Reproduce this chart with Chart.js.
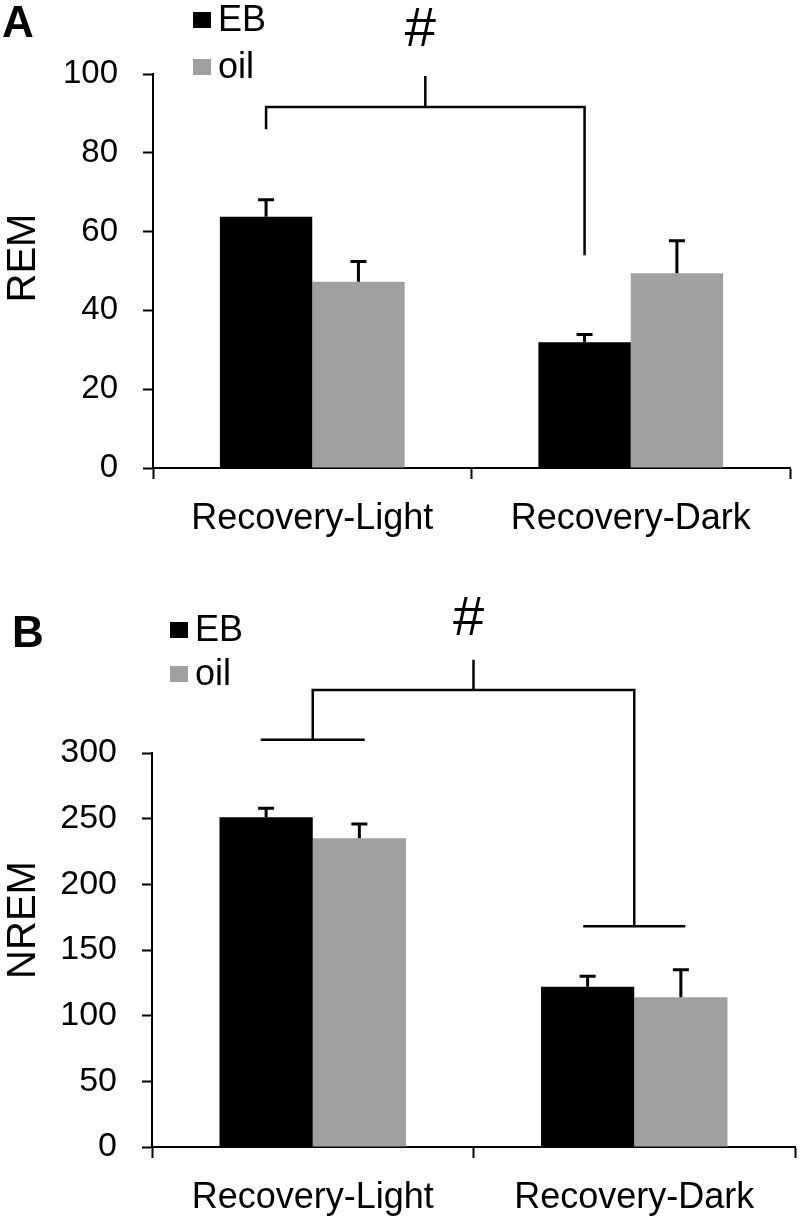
<!DOCTYPE html>
<html lang="en">
<head>
    <meta charset="UTF-8">
    <title>REM / NREM recovery</title>
    <script src="https://cdn.jsdelivr.net/npm/chart.js"></script>
    <style>
        body { margin: 0; background: #fff; }
        .painel { position: relative; width: 800px; }
        #painelA { height: 575px; }
        #painelB { height: 642px; }
    </style>
</head>
<body>
    <div class="painel" id="painelA"><canvas id="graficoA"></canvas></div>
    <div class="painel" id="painelB"><canvas id="graficoB"></canvas></div>

    <script>
        // dados
        const categories = ['Recovery-Light', 'Recovery-Dark'];
        const seriesNames = ['EB', 'oil'];

        const remEB = [63.8, 31.9];
        const remEBErr = [4.3, 2.0];
        const remOil = [47.3, 49.4];
        const remOilErr = [5.1, 8.3];
        const remTicks = [0, 20, 40, 60, 80, 100];

        const nremEB = [251, 122];
        const nremEBErr = [7, 8];
        const nremOil = [235, 114];
        const nremOilErr = [11, 21];
        const nremTicks = [0, 50, 100, 150, 200, 250, 300];

        const corEB = '#000000';
        const corOil = '#a0a0a0';
        const fonte = '"Liberation Sans", Arial, sans-serif';

        // barras de erro + chaves + legenda desenhadas à mão
        const extras = {
            id: 'extras',
            afterDatasetsDraw(chart, args, opts) {
                const ctx = chart.ctx;
                const y = chart.scales.y;
                ctx.save();
                ctx.strokeStyle = '#000';
                ctx.lineWidth = 3;
                chart.data.datasets.forEach((ds, i) => {
                    const meta = chart.getDatasetMeta(i);
                    meta.data.forEach((bar, j) => {
                        const top = y.getPixelForValue(ds.data[j] + ds.errors[j]);
                        ctx.beginPath();
                        ctx.moveTo(bar.x, bar.y);
                        ctx.lineTo(bar.x, top);
                        ctx.moveTo(bar.x - 8, top);
                        ctx.lineTo(bar.x + 8, top);
                        ctx.stroke();
                    });
                });
                ctx.restore();
            },
            afterDraw(chart, args, opts) {
                const ctx = chart.ctx;
                const x = chart.scales.x;
                const y = chart.scales.y;
                ctx.save();
                ctx.strokeStyle = '#000';
                ctx.lineWidth = 2.5;

                // chave de significância
                const b = opts.bracket;
                const px = (p) => p.bar ? chart.getDatasetMeta(p.bar[0]).data[p.bar[1]].x : x.getPixelForValue(p.cat);
                const xl = px(b.left), xr = px(b.right);
                const yTop = y.getPixelForValue(b.top);
                ctx.beginPath();
                ctx.moveTo(xl, y.getPixelForValue(b.left.bottom));
                ctx.lineTo(xl, yTop);
                ctx.lineTo(xr, yTop);
                ctx.lineTo(xr, y.getPixelForValue(b.right.bottom));
                const xm = (xl + xr) / 2;
                ctx.moveTo(xm, yTop);
                ctx.lineTo(xm, y.getPixelForValue(b.peak));
                [b.left, b.right].forEach((p, k) => {
                    if (p.foot) {
                        const xx = k === 0 ? xl : xr;
                        const yy = y.getPixelForValue(p.bottom);
                        ctx.moveTo(xx - p.foot, yy);
                        ctx.lineTo(xx + p.foot, yy);
                    }
                });
                ctx.stroke();

                ctx.fillStyle = '#000';
                ctx.textAlign = 'center';
                ctx.textBaseline = 'middle';
                ctx.font = '56px ' + fonte;
                ctx.fillText('#', xm - 5, opts.hashY);

                // título do eixo y
                ctx.save();
                ctx.translate(22, opts.titleY);
                ctx.rotate(-Math.PI / 2);
                ctx.font = '40px ' + fonte;
                ctx.fillText(opts.title, 0, 2);
                ctx.restore();

                // letra do painel
                ctx.textAlign = 'left';
                ctx.font = 'bold 44px ' + fonte;
                ctx.fillText(opts.letter, opts.letterX, opts.letterY);

                // legenda
                ctx.font = '36px ' + fonte;
                chart.data.datasets.forEach((ds, i) => {
                    const ly = opts.legendY + i * opts.legendGap;
                    ctx.fillStyle = ds.backgroundColor;
                    ctx.fillRect(opts.legendX, ly - 8, 18, 16);
                    ctx.fillStyle = '#000';
                    ctx.fillText(ds.label, opts.legendX + 25, ly + 1);
                });
                ctx.restore();
            }
        };

        function montarGrafico(id, cfg) {
            const eixoComum = {
                border: { display: true, color: '#000', width: 2 },
                grid: { display: true, drawOnChartArea: false, drawTicks: true, tickLength: 10, tickColor: '#000', tickWidth: 2 }
            };
            return new Chart(document.getElementById(id), {
                type: 'bar',
                data: {
                    labels: categories,
                    datasets: [
                        { label: seriesNames[0], data: cfg.eb, errors: cfg.ebErr, backgroundColor: corEB },
                        { label: seriesNames[1], data: cfg.oil, errors: cfg.oilErr, backgroundColor: corOil }
                    ]
                },
                options: {
                    responsive: true,
                    maintainAspectRatio: false,
                    animation: false,
                    layout: { padding: { top: cfg.top, right: cfg.right, left: 0, bottom: 0 } },
                    datasets: { bar: { categoryPercentage: 0.58, barPercentage: 1.0 } },
                    plugins: {
                        legend: { display: false },
                        tooltip: { enabled: false },
                        extras: cfg.extras
                    },
                    scales: {
                        x: {
                            ...eixoComum,
                            offset: true,
                            grid: { ...eixoComum.grid, offset: true, tickLength: 11 },
                            ticks: { color: '#000', font: { family: fonte, size: 36 }, padding: 18, maxRotation: 0 },
                            afterFit: (s) => { s.height = cfg.xHeight; }
                        },
                        y: {
                            ...eixoComum,
                            min: cfg.ticks[0],
                            max: cfg.ticks[cfg.ticks.length - 1],
                            afterBuildTicks: (s) => { s.ticks = cfg.ticks.map(v => ({ value: v })); },
                            ticks: { color: '#000', font: { family: fonte, size: cfg.tickSize }, padding: 25 },
                            afterFit: (s) => { s.width = cfg.yWidth; }
                        }
                    }
                },
                plugins: [extras]
            });
        }

        document.addEventListener('DOMContentLoaded', function () {
            montarGrafico('graficoA', {
                eb: remEB, ebErr: remEBErr, oil: remOil, oilErr: remOilErr,
                ticks: remTicks, tickSize: 33,
                top: 74, right: 10, xHeight: 107, yWidth: 153,
                extras: {
                    bracket: {
                        left: { bar: [0, 0], bottom: 86 },
                        right: { bar: [0, 1], bottom: 54 },
                        top: 91.6, peak: 99.5
                    },
                    title: 'REM', titleY: 258,
                    hashY: 31, letter: 'A', letterX: 2, letterY: 25,
                    legendX: 193, legendY: 20, legendGap: 47
                }
            });

            montarGrafico('graficoB', {
                eb: nremEB, ebErr: nremEBErr, oil: nremOil, oilErr: nremOilErr,
                ticks: nremTicks, tickSize: 34,
                top: 178, right: 5, xHeight: 70, yWidth: 152,
                extras: {
                    bracket: {
                        left: { cat: 0, bottom: 310, foot: 52 },
                        right: { cat: 1, bottom: 168, foot: 51 },
                        top: 348, peak: 371
                    },
                    title: 'NREM', titleY: 345,
                    hashY: 45, letter: 'B', letterX: 12, letterY: 60,
                    legendX: 170, legendY: 55, legendGap: 44
                }
            });
        });
    </script>
</body>
</html>
